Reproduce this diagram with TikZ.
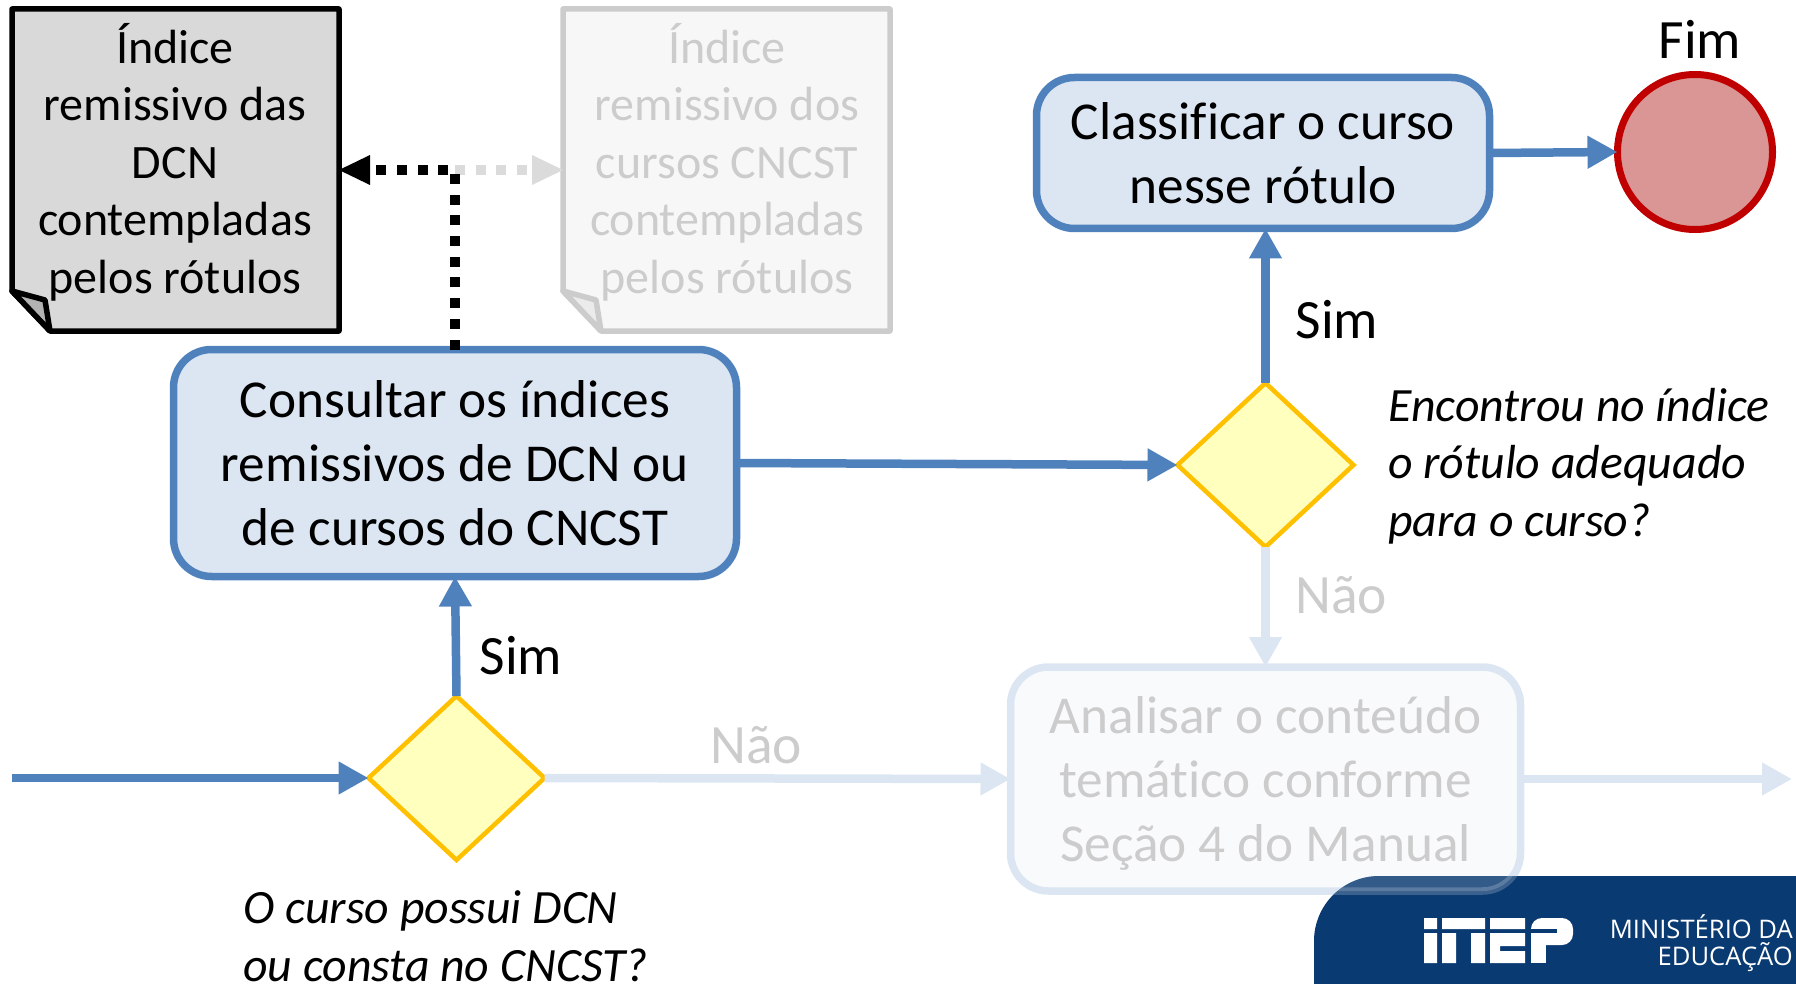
\documentclass[tikz,border=0pt]{standalone}
\usepackage{fontspec}
\setmainfont[Ligatures=NoCommon]{Carlito}
\newfontfamily\logofont{Open Sans}
\usetikzlibrary{arrows.meta,shapes.geometric,calc}
\definecolor{bl}{HTML}{4F81BD}
\definecolor{blf}{HTML}{DCE6F2}
\definecolor{yel}{HTML}{FFC000}
\definecolor{yelf}{HTML}{FFFFBE}
\definecolor{navy}{HTML}{0A3A72}
\definecolor{fadeg}{HTML}{CCCCCC}
\definecolor{redl}{HTML}{C00000}
\definecolor{redf}{HTML}{D99694}
\newcommand{\docshape}[7]{% x0 y0 x1 y1 fill stroke foldfill
  \path[fill=#5,draw=#6,line width=5.5,line join=round]
    (#1,#2) -- (#3,#2) -- (#3,#4) -- (#1+38,#4) -- (#1,#4-40) -- cycle;
  \path[fill=#7,draw=#6,line width=5.5,line join=round]
    (#1,#4-40) -- (#1+33,#4-31) -- (#1+38,#4) -- cycle;
}
\newcommand{\logopath}{(1314,984) [rounded corners=65] -- (1314,876) [rounded corners=0] -- (1796,876) -- (1796,984) -- cycle}
\tikzset{
  x=1pt,y=-1pt,
  big/.style={font=\fontsize{53.3}{64}\selectfont,align=center,text=black},
  doctext/.style={font=\fontsize{48}{57.5}\selectfont,align=center,text=black},
  lab/.style={font=\fontsize{55.5}{66}\selectfont,text=black},
  ques/.style={font=\fontsize{47.8}{57.5}\selectfont\itshape,align=left,text=black,anchor=west,inner sep=0},
  proc/.style={rounded corners=38,draw=bl,fill=blf,line width=7.5,minimum width=#1,inner sep=0,outer sep=0},
  procf/.style={rounded corners=38,draw=blf,fill=blf!20,line width=7.5,minimum width=#1,inner sep=0,outer sep=0,text=fadeg},
  dia/.style={diamond,draw=yel,fill=yelf,line width=4.5,minimum width=176,minimum height=164,inner sep=0,outer sep=0},
  conn/.style={draw=bl,line width=8.5,-{Triangle[length=30,width=31]}},
  connf/.style={draw=blf,line width=8.5,-{Triangle[length=30,width=31]}},
  dotb/.style={draw=black,line width=10,dash pattern=on 10 off 10.7},
  dotg/.style={draw=fadeg!70,line width=10,dash pattern=on 10 off 10.7},
}
\begin{document}
\begin{tikzpicture}
\useasboundingbox (0,0) rectangle (1796,984);

% documents
\docshape{12}{9}{339}{331}{black!15}{black}{black!30}
\docshape{563}{9}{890}{331}{black!3}{fadeg}{black!8}
\node[inner sep=0,outer sep=0,minimum width=327,minimum height=322] (docA) at (175.5,170) {};
\node[inner sep=0,outer sep=0,minimum width=327,minimum height=322] (docB) at (726.5,170) {};
\node[doctext] (docAt) at (175,162) {Índice\\remissivo das\\DCN\\contempladas\\pelos rótulos};
\node[doctext,text=fadeg] (docBt) at (727,162) {Índice\\remissivo dos\\cursos CNCST\\contempladas\\pelos rótulos};

% process boxes
\node[proc=563,minimum height=227,big] (cons) at (455,463) {Consultar os índices\\remissivos de DCN ou\\de cursos do CNCST};
\node[proc=453,minimum height=151,big] (clas) at (1263,153) {Classificar o curso\\nesse rótulo};
\node[procf=510,minimum height=224,big,text=fadeg] (anal) at (1265.5,779) {\rule{0pt}{46pt}Analisar o conteúdo\\temático conforme\\Seção 4 do Manual};

% decisions and end
\node[dia] (d1) at (456.5,778) {};
\node[dia] (d2) at (1265.5,465) {};
\node[circle,draw=redl,fill=redf,line width=7,minimum size=155,inner sep=0,outer sep=0] (fim) at (1695,152) {};

% free ends
\coordinate (start) at (12,778);
\coordinate (out) at (1792,779);
\coordinate (junc) at (cons.north |- docA.east);

% connectors
\draw[conn] (start) -- (d1.west);
\draw[conn] (d1.north) -- (cons.south);
\draw[conn] (cons.east) -- (d2.west);
\draw[conn] (d2.north) -- (d2.north |- clas.south);
\draw[conn] (clas.east) -- (fim.west);
\draw[connf] (d2.south) -- (anal.north);
\draw[connf] (d1.east) -- (anal.west);
\draw[connf] (anal.east) -- (out);

\draw[dotg] (junc) -- ($(docB.west)+(-30,0)$);
\fill[fadeg!70] (docB.west) -- ++(-31,-15) -- ++(0,30) -- cycle;
\draw[dotb] (cons.north) -- (junc) -- ($(docA.east)+(30,0)$);
\fill[black] (docA.east) -- ++(31,-15) -- ++(0,30) -- cycle;

% labels
\node[lab] (s1) at (521,656) {Sim};
\node[lab] (s2) at (1337,320) {Sim};
\node[lab,text=fadeg] (n1) at (756,745) {Não};
\node[lab,text=fadeg] (n2) at (1341,595) {Não};
\node[lab] (f) at (1700,39) {Fim};
\node[ques] (q2) at (1388,466) {Encontrou no índice\\o rótulo adequado\\para o curso?};
\node[ques] (q1) at (243,936) {O curso possui DCN\\ou consta no CNCST?};

% logo
\fill[navy] \logopath;
\begin{scope}
  \clip \logopath;
  \draw[draw=white,draw opacity=.2,fill=white,fill opacity=.17,line width=7.5,rounded corners=38] (anal.north west) rectangle (anal.south east);
\end{scope}
\fill[white] (1424,918) rectangle (1437,929) (1424,933) rectangle (1437,963)
  (1442,918) rectangle (1485,929) (1442,933) rectangle (1456,963) (1471,933) rectangle (1485,963)
  (1490,918) rectangle (1525,929) (1490,933) rectangle (1525,946) (1490,946) rectangle (1500,951) (1490,951) rectangle (1525,963);
\fill[white,rounded corners=11] (1531,945) -- (1531,918) -- (1573,918) -- (1573,945) -- cycle;
\fill[white] (1531,930) rectangle (1546,963);
\fill[navy] (1531,929) rectangle (1557,933);
\node[font=\logofont\fontsize{25.6}{27.5}\selectfont,text=white,align=right,anchor=east,inner sep=0] (mec) at (1793,943) {MINISTÉRIO DA\\EDUCAÇÃO};
\end{tikzpicture}
\end{document}
